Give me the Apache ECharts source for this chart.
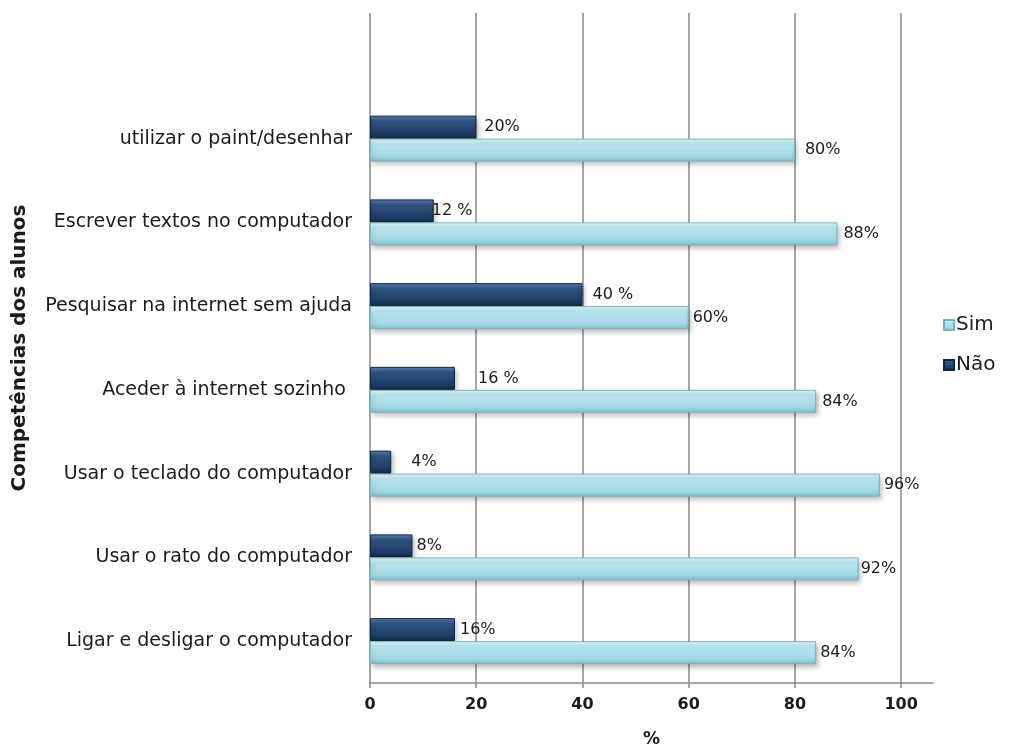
<!DOCTYPE html>
<html>
<head>
<meta charset="utf-8">
<script src="https://cdn.jsdelivr.net/npm/echarts@6/dist/echarts.min.js"></script>
<style>
  html, body { margin: 0; padding: 0; background: #fff; }
  #chart { width: 1022px; height: 747px; }
</style>
</head>
<body>
<div id="chart"></div>
<script>
// Competências dos alunos: Sim / Não percentages per skill (bottom to top)
const categories = [
  'Ligar e desligar o computador',
  'Usar o rato do computador',
  'Usar o teclado do computador',
  'Aceder à internet sozinho ',
  'Pesquisar na internet sem ajuda',
  'Escrever textos no computador',
  'utilizar o paint/desenhar',
  ''
];
const simValues = [84, 92, 96, 84, 60, 88, 80];
const naoValues = [16, 8, 4, 16, 40, 12, 20];
const simLabels = ['84%', '92%', '96%', '84%', '60%', '88%', '80%'];
const naoLabels = ['16%', '8%', '4%', '16 %', '40 %', '12 %', '20%'];
const xTicks = [0, 20, 40, 60, 80, 100];

// small horizontal nudges of the value labels (px)
const naoLabelShift = [-3, -4, 12, 15, 2, -10, 0];
const simLabelShift = [-4, -6, -4, -2, -4, -2, 2];

const font = 'DejaVu Sans';
const textColor = '#1b1b1b';

const simColor = {
  type: 'linear', x: 0, y: 0, x2: 0, y2: 1,
  colorStops: [
    { offset: 0, color: '#e4f7fb' },
    { offset: 0.25, color: '#b9e6ee' },
    { offset: 0.75, color: '#a3d8e3' },
    { offset: 1, color: '#82bfcc' }
  ]
};
const naoColor = {
  type: 'linear', x: 0, y: 0, x2: 0, y2: 1,
  colorStops: [
    { offset: 0, color: '#5a7fa8' },
    { offset: 0.25, color: '#2f5482' },
    { offset: 0.75, color: '#1f3e66' },
    { offset: 1, color: '#132a48' }
  ]
};

function makeData(values, labels, shifts) {
  return values.map((v, i) => ({
    value: v,
    label: { formatter: labels[i], offset: [shifts[i], 0] }
  }));
}

const barShadow = {
  shadowColor: 'rgba(0,0,0,0.28)',
  shadowBlur: 5,
  shadowOffsetX: 2,
  shadowOffsetY: 3
};
const valueLabel = {
  show: true,
  position: 'right',
  distance: 8,
  fontFamily: font,
  fontSize: 16,
  color: textColor
};

const chart = echarts.init(document.getElementById('chart'), null, { renderer: 'canvas' });
chart.setOption({
  backgroundColor: '#ffffff',
  animation: false,
  textStyle: { fontFamily: font, color: textColor },
  legend: {
    orient: 'vertical',
    left: 938,
    top: 310,
    itemWidth: 10,
    itemHeight: 10,
    itemGap: 20,
    icon: 'rect',
    textStyle: { fontFamily: font, fontSize: 20, color: textColor, padding: [0, 0, 0, -3] },
    data: ['Sim', 'Não']
  },
  grid: { left: 370, right: 89, top: 13, bottom: 64, containLabel: false, outerBoundsMode: 'none' },
  xAxis: {
    type: 'value',
    min: 0,
    max: 106,
    interval: 20,
    name: '%',
    nameLocation: 'middle',
    nameGap: 48,
    nameTextStyle: { fontFamily: font, fontSize: 17, fontWeight: 'bold', color: textColor },
    axisLine: { show: true, lineStyle: { color: '#8a8a8a', width: 1.5 } },
    axisTick: { show: true, length: 5, lineStyle: { color: '#8a8a8a', width: 1.5 } },
    axisLabel: {
      showMaxLabel: false,
      margin: 14,
      fontFamily: font,
      fontSize: 16,
      fontWeight: 'bold',
      color: textColor,
      formatter: v => (xTicks.indexOf(v) >= 0 ? String(v) : '')
    },
    splitLine: { show: true, showMinLine: true, showMaxLine: false, lineStyle: { color: '#8a8a8a', width: 1.5 } }
  },
  yAxis: {
    type: 'category',
    data: categories,
    name: 'Competências dos alunos',
    nameLocation: 'middle',
    nameGap: 340,
    nameRotate: 90,
    nameTextStyle: { fontFamily: font, fontSize: 20, fontWeight: 'bold', color: textColor },
    axisLine: { show: false },
    axisTick: { show: false },
    axisLabel: { margin: 18, fontFamily: font, fontSize: 19, color: textColor }
  },
  series: [
    {
      name: 'Não',
      type: 'bar',
      barWidth: 23,
      barGap: '0%',
      data: makeData(naoValues, naoLabels, naoLabelShift),
      itemStyle: Object.assign({ color: naoColor, borderColor: '#112640', borderWidth: 1 }, barShadow),
      label: valueLabel
    },
    {
      name: 'Sim',
      type: 'bar',
      barWidth: 23,
      barGap: '0%',
      data: makeData(simValues, simLabels, simLabelShift),
      itemStyle: Object.assign({ color: simColor, borderColor: '#7db3c0', borderWidth: 1 }, barShadow),
      label: valueLabel
    }
  ]
});
</script>
</body>
</html>
